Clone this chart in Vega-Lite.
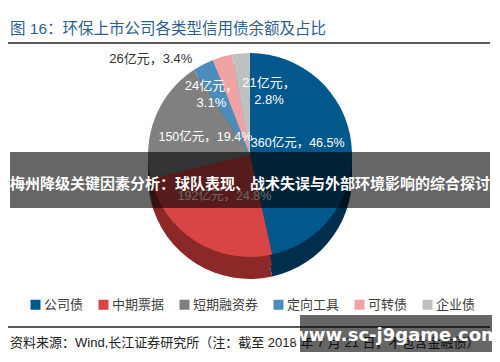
{
  "$schema": "https://vega.github.io/schema/vega-lite/v6.json",
  "width": 500,
  "height": 362,
  "autosize": {"type": "fit", "contains": "padding"},
  "padding": 0,
  "background": "white",
  "config": {"view": {"stroke": null}, "font": "Liberation Sans, Noto Sans CJK SC"},
  "datasets": {
    "debt": [
      {"type": "公司债", "amount": 360, "share": 46.5, "rank": 1, "label": "360亿元，46.5%"},
      {"type": "中期票据", "amount": 192, "share": 24.8, "rank": 2, "label": "192亿元，24.8%"},
      {"type": "短期融资券", "amount": 150, "share": 19.4, "rank": 3, "label": "150亿元，19.4%"},
      {"type": "定向工具", "amount": 26, "share": 3.4, "rank": 4, "label": "26亿元，3.4%"},
      {"type": "可转债", "amount": 24, "share": 3.1, "rank": 5, "label": "24亿元，\n3.1%"},
      {"type": "企业债", "amount": 21, "share": 2.8, "rank": 6, "label": "21亿元，\n2.8%"}
    ]
  },
  "layer": [
    {
      "data": {"name": "debt"},
      "mark": {"type": "arc", "radius": 102},
      "encoding": {
        "x": {"value": 250},
        "y": {"value": 177},
        "theta": {"field": "share", "type": "quantitative", "stack": true},
        "order": {"field": "rank", "type": "quantitative"},
        "color": {"field": "type", "type": "nominal", "legend": null,
          "scale": {"domain": ["公司债", "中期票据", "短期融资券", "定向工具", "可转债", "企业债"],
                    "range": ["#012E4C", "#8C2828", "#4D4D4D", "#2C5A7A", "#A86E70", "#8A8A8A"]}}
      }
    },
    {
      "data": {"name": "debt"},
      "mark": {"type": "arc", "radius": 102},
      "encoding": {
        "x": {"value": 250},
        "y": {"value": 166},
        "theta": {"field": "share", "type": "quantitative", "stack": true},
        "order": {"field": "rank", "type": "quantitative"},
        "color": {"field": "type", "type": "nominal", "legend": null,
          "scale": {"domain": ["公司债", "中期票据", "短期融资券", "定向工具", "可转债", "企业债"],
                    "range": ["#012E4C", "#8C2828", "#4D4D4D", "#2C5A7A", "#A86E70", "#8A8A8A"]}}
      }
    },
    {
      "data": {"name": "debt"},
      "mark": {"type": "arc", "radius": 102},
      "encoding": {
        "x": {"value": 250},
        "y": {"value": 155},
        "theta": {"field": "share", "type": "quantitative", "stack": true},
        "order": {"field": "rank", "type": "quantitative"},
        "color": {"field": "type", "type": "nominal",
          "scale": {"domain": ["公司债", "中期票据", "短期融资券", "定向工具", "可转债", "企业债"],
                    "range": ["#02578C", "#D94545", "#808080", "#4A8DBB", "#F0A3A5", "#C0C0C0"]},
          "legend": {"orient": "none", "legendX": 29, "legendY": 298, "direction": "horizontal",
                     "title": null, "symbolType": "square", "symbolSize": 100, "symbolStrokeWidth": 0,
                     "labelFontSize": 13, "labelColor": "#404040", "columnPadding": 13, "labelOffset": 2,
                     "labelFont": "Liberation Sans, Noto Sans CJK SC"}}
      }
    },
    {
      "data": {"name": "debt"},
      "mark": {"type": "text", "radius": 48, "color": "white", "fontSize": 12.5, "dy": -7},
      "encoding": {
        "x": {"value": 250},
        "y": {"value": 155},
        "theta": {"field": "share", "type": "quantitative", "stack": true},
        "order": {"field": "rank", "type": "quantitative"},
        "text": {"condition": {"test": "datum.rank == 1", "field": "label"}, "value": ""}
      }
    },
    {
      "data": {"name": "debt"},
      "mark": {"type": "text", "radius": 48, "color": "white", "fontSize": 12.5},
      "encoding": {
        "x": {"value": 250},
        "y": {"value": 155},
        "theta": {"field": "share", "type": "quantitative", "stack": true},
        "order": {"field": "rank", "type": "quantitative"},
        "text": {"condition": {"test": "datum.rank == 2 || datum.rank == 3", "field": "label"}, "value": ""}
      }
    },
    {
      "data": {"name": "debt"},
      "mark": {"type": "text", "radius": 108, "color": "#333333", "fontSize": 13, "align": "right", "dx": -8},
      "encoding": {
        "x": {"value": 250},
        "y": {"value": 155},
        "theta": {"field": "share", "type": "quantitative", "stack": true},
        "order": {"field": "rank", "type": "quantitative"},
        "text": {"condition": {"test": "datum.rank == 4", "field": "label"}, "value": ""}
      }
    },
    {
      "data": {"name": "debt"},
      "mark": {"type": "text", "radius": 80, "color": "white", "fontSize": 13, "lineBreak": "\n", "lineHeight": 17, "dx": -17, "dy": 8},
      "encoding": {
        "x": {"value": 250},
        "y": {"value": 155},
        "theta": {"field": "share", "type": "quantitative", "stack": true},
        "order": {"field": "rank", "type": "quantitative"},
        "text": {"condition": {"test": "datum.rank == 5", "field": "label"}, "value": ""}
      }
    },
    {
      "data": {"name": "debt"},
      "mark": {"type": "text", "radius": 80, "color": "white", "fontSize": 13, "lineBreak": "\n", "lineHeight": 17, "dx": 26, "dy": 8},
      "encoding": {
        "x": {"value": 250},
        "y": {"value": 155},
        "theta": {"field": "share", "type": "quantitative", "stack": true},
        "order": {"field": "rank", "type": "quantitative"},
        "text": {"condition": {"test": "datum.rank == 6", "field": "label"}, "value": ""}
      }
    },
    {
      "data": {"values": [{}]},
      "mark": {"type": "text", "align": "left", "baseline": "middle", "fontSize": 15.5, "fontWeight": "normal", "color": "#2F5F8F"},
      "encoding": {"x": {"value": 10}, "y": {"value": 29}, "text": {"value": "图 16：环保上市公司各类型信用债余额及占比"}}
    },
    {
      "data": {"values": [{}]},
      "mark": {"type": "rule", "color": "#222222", "strokeWidth": 1.3},
      "encoding": {"x": {"value": 8}, "x2": {"value": 490}, "y": {"value": 43}}
    },
    {
      "data": {"values": [{}]},
      "mark": {"type": "rule", "color": "#222222", "strokeWidth": 1.3},
      "encoding": {"x": {"value": 8}, "x2": {"value": 490}, "y": {"value": 327}}
    },
    {
      "data": {"values": [{}]},
      "mark": {"type": "text", "align": "left", "baseline": "middle", "fontSize": 13, "color": "#222222"},
      "encoding": {"x": {"value": 10}, "y": {"value": 343}, "text": {"value": "资料来源：Wind,长江证券研究所（注：截至 2018 年 7 月 21 日，不包含金融债）"}}
    },
    {
      "data": {"values": [{}]},
      "mark": {"type": "rect", "color": "black", "opacity": 0.6},
      "encoding": {"x": {"value": 10}, "x2": {"value": 490}, "y": {"value": 152}, "y2": {"value": 208}}
    },
    {
      "data": {"values": [{}]},
      "mark": {"type": "text", "align": "center", "baseline": "middle", "fontSize": 15, "fontWeight": "bold", "color": "white"},
      "encoding": {"x": {"value": 250}, "y": {"value": 184}, "text": {"value": "梅州降级关键因素分析：球队表现、战术失误与外部环境影响的综合探讨"}}
    },
    {
      "data": {"values": [{}]},
      "mark": {"type": "rect", "color": "black", "opacity": 0.6},
      "encoding": {"x": {"value": 300}, "x2": {"value": 492}, "y": {"value": 315}, "y2": {"value": 352}}
    },
    {
      "data": {"values": [{}]},
      "mark": {"type": "text", "align": "center", "baseline": "middle", "fontSize": 18, "fontWeight": "bold", "color": "white", "font": "DejaVu Sans"},
      "encoding": {"x": {"value": 396}, "y": {"value": 336}, "text": {"value": "www.sc-j9game.com"}}
    }
  ],
  "resolve": {"scale": {"color": "independent"}}
}
